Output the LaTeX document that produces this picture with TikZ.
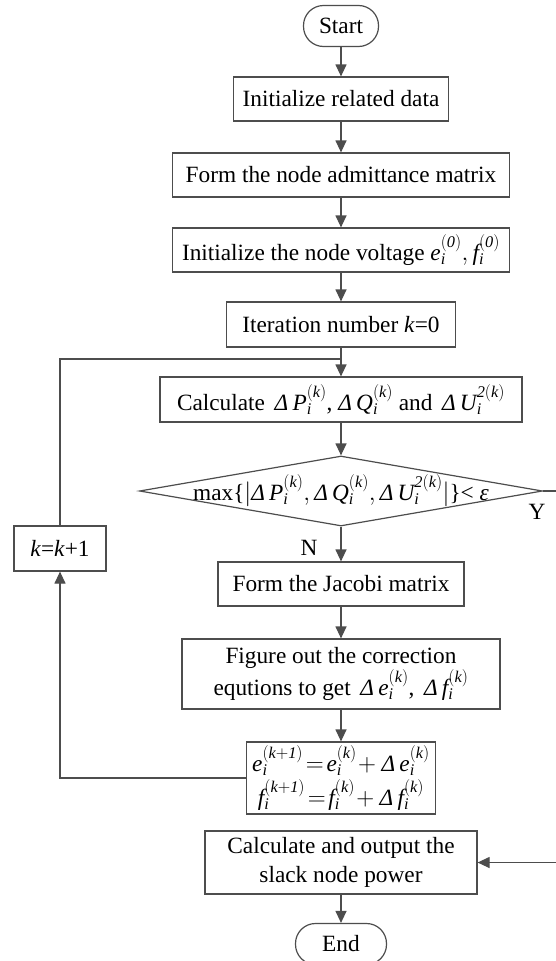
\documentclass[tikz,border=0pt]{standalone}
\usepackage{fontspec}
\setmainfont{Liberation Serif}
\usetikzlibrary{arrows.meta,shapes.geometric}
\definecolor{ln}{HTML}{4D4D4D}
\newcommand\myit[1]{\mathit{#1}}
\newcommand\Dlt{\mbox{\itshape Δ}\,}
\newcommand\eps{\mbox{\itshape ε}}
\begin{document}
\begin{tikzpicture}[x=1pt,y=-1pt,
  font=\fontsize{23.3}{29}\selectfont,
  box/.style={draw=ln, line width=1.2pt, inner sep=0pt, minimum height=44pt, align=center, fill=white},
  term/.style={box, rounded corners=20pt, minimum height=41pt},
  con/.style={draw=ln, line width=1.2pt},
  arr/.style={con, -{Triangle[length=12pt,width=11pt]}}]
\useasboundingbox (0,0) rectangle (555,961);
\fill[white] (0,0) rectangle (555,961);

\node[term, minimum width=75pt] (start) at (341,26) {Start};
\node[box, minimum width=215pt] (b1) at (341,99) {Initialize related data};
\node[box, minimum width=337pt] (b2) at (341,175) {Form the node admittance matrix};
\node[box, minimum width=337pt] (b3) at (341,250) {Initialize the node voltage $\myit{e}_{\myit{i}}^{\myit{(0)}}, \myit{f}_{\myit{i}}^{\myit{(0)}}$};
\node[box, minimum width=229pt, minimum height=45pt] (b4) at (341,324.5) {Iteration number \textit{k}=0};
\node[box, minimum width=362pt, minimum height=45pt] (b5) at (341,399.5) {Calculate \,$\Dlt\myit{P}_{\myit{i}}^{\myit{(k)}}$, $\Dlt\myit{Q}_{\myit{i}}^{\myit{(k)}}$ and \,$\Dlt\myit{U}_{\myit{i}}^{\myit{2(k)}}$};
\node[diamond, draw=ln, line width=1.2pt, fill=white, inner sep=0pt, minimum width=403pt, minimum height=70pt] (dia) at (341,491) {};
\node[inner sep=0pt] (dtext) at (341,491) {max\{$|\Dlt\myit{P}_{\myit{i}}^{\myit{(k)}}, \Dlt\myit{Q}_{\myit{i}}^{\myit{(k)}}, \Dlt\myit{U}_{\myit{i}}^{\myit{2(k)}}|$\}< \eps};
\node[box, minimum width=246pt] (b6) at (341,584) {Form the Jacobi matrix};
\node[box, minimum width=318pt, minimum height=70pt] (b7) at (341,674) {Figure out the correction\\equtions to get \,$\Dlt\myit{e}_{\myit{i}}^{\myit{(k)}}$, \,$\Dlt\myit{f}_{\myit{i}}^{\myit{(k)}}$};
\node[box, minimum width=189pt, minimum height=72pt] (b8) at (341,778) {$\myit{e}_{\myit{i}}^{\myit{(k+1)}}\!=\!\myit{e}_{\myit{i}}^{\myit{(k)}}\!+\Dlt\myit{e}_{\myit{i}}^{\myit{(k)}}$\\[3pt]$\myit{f}_{\myit{i}}^{\myit{(k+1)}}\!=\!\myit{f}_{\myit{i}}^{\myit{(k)}}\!+\Dlt\myit{f}_{\myit{i}}^{\myit{(k)}}$};
\node[box, minimum width=272pt, minimum height=63pt] (b9) at (341,862.5) {Calculate and output the\\slack node power};
\node[term, minimum width=91pt] (end) at (341,944) {End};
\node[box, minimum width=92pt, minimum height=45pt] (kbox) at (60,548.5) {\textit{k}=\textit{k}+1};
\node[inner sep=0pt] (ylab) at (537,512) {Y};
\node[inner sep=0pt] (nlab) at (309,548) {N};

\coordinate (jn) at (341,359);
\coordinate (rt) at (560,491);

\draw[arr] (start) -- (b1);
\draw[arr] (b1) -- (b2);
\draw[arr] (b2) -- (b3);
\draw[arr] (b3) -- (b4);
\draw[arr] (b4) -- (b5);
\draw[arr] (b5) -- (dia);
\draw[arr] (dia) -- (b6);
\draw[arr] (b6) -- (b7);
\draw[arr] (b7) -- (b8);
\draw[arr] (b9) -- (end);
\draw[arr] (b8.west) -| (kbox.south);
\draw[con] (kbox.north) |- (jn);
\draw[arr] (dia.east) -- (rt) |- (b9.east);
\end{tikzpicture}
\end{document}
